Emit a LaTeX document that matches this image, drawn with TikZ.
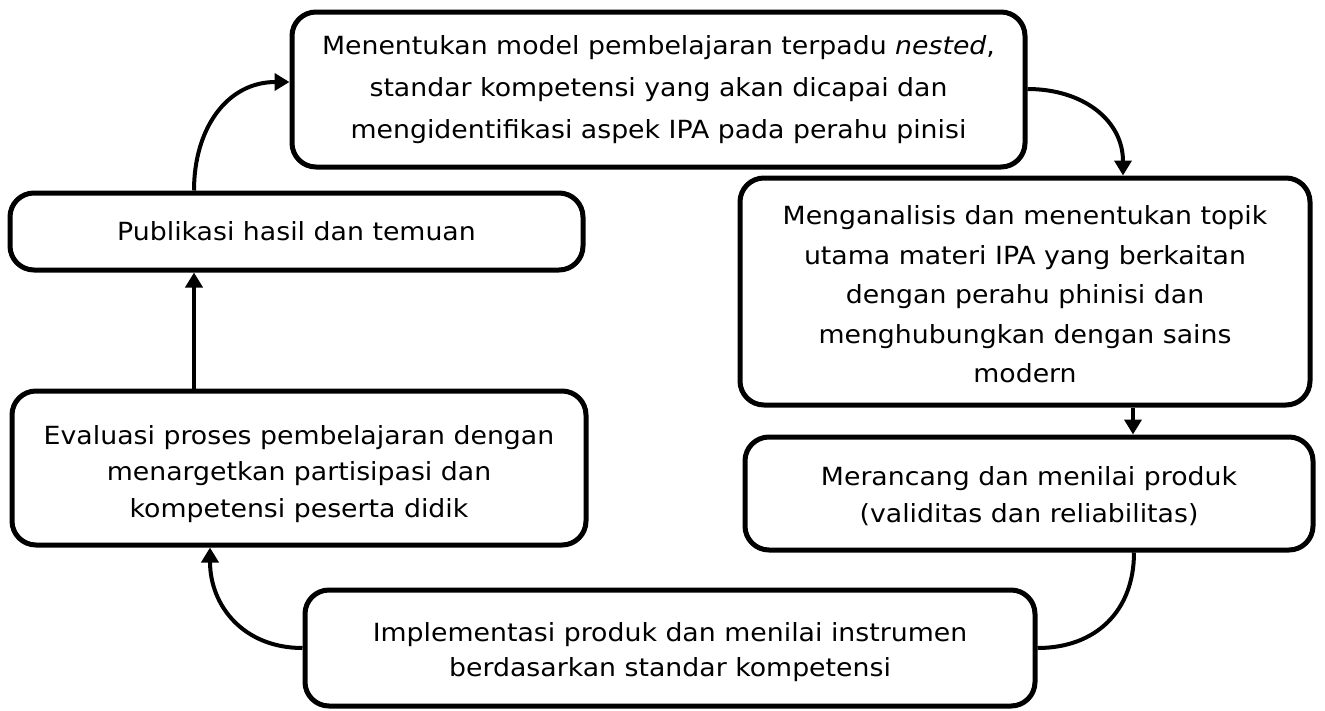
\documentclass[tikz,border=0pt]{standalone}
\usepackage{fontspec}
\setmainfont{DejaVu Sans}[FakeStretch=1.07]
\usetikzlibrary{arrows.meta}
\newcommand{\lowered}[3]{\raisebox{-#1}[\height][\depth]{\parbox{#2}{\centering #3}}}
\begin{document}
\begin{tikzpicture}[x=1pt,y=-1pt,
  box/.style={draw, line width=5pt, rounded corners=24pt, align=center, inner sep=0pt},
  arr/.style={line width=4pt, -{Triangle[length=15pt,width=17pt]}},
  link/.style={line width=4pt}]
\useasboundingbox (0,0) rectangle (1325,710);
\node[box, minimum width=733pt, minimum height=155pt, font=\fontsize{25pt}{42pt}\selectfont] (b1) at (658.5,89.5)
  {Menentukan model pembelajaran terpadu \textit{nested},\\standar kompetensi yang akan dicapai dan\\mengidentifikasi aspek IPA pada perahu pinisi};
\node[box, minimum width=573pt, minimum height=77pt, font=\fontsize{25pt}{40pt}\selectfont] (b2) at (296.5,231.5)
  {Publikasi hasil dan temuan};
\node[box, minimum width=570pt, minimum height=227pt, font=\fontsize{25pt}{39.5pt}\selectfont] (b3) at (1025,291.5)
  {\lowered{3pt}{560pt}{Menganalisis dan menentukan topik\\utama materi IPA yang berkaitan\\dengan perahu phinisi dan\\menghubungkan dengan sains\\modern}};
\node[box, minimum width=568pt, minimum height=113pt, font=\fontsize{25pt}{37pt}\selectfont] (b4) at (1029,493.5)
  {\lowered{3pt}{560pt}{Merancang dan menilai produk\\(validitas dan reliabilitas)}};
\node[box, minimum width=574pt, minimum height=154pt, font=\fontsize{25pt}{36.5pt}\selectfont] (b5) at (299,468)
  {\lowered{6pt}{566pt}{Evaluasi proses pembelajaran dengan\\menargetkan partisipasi dan\\kompetensi peserta didik}};
\node[box, minimum width=730pt, minimum height=116pt, font=\fontsize{25pt}{35.5pt}\selectfont] (b6) at (670,648)
  {\lowered{4pt}{720pt}{Implementasi produk dan menilai instrumen\\berdasarkan standar kompetensi}};
\draw[arr] ([xshift=-102.5pt]b2.north) to[out=90,in=180,looseness=1.1] ([yshift=7.5pt]b1.west);
\draw[arr] ([yshift=0.5pt]b1.east) to[out=0,in=90,looseness=1.1] ([xshift=98pt]b3.north);
\draw[arr] ([xshift=108pt]b3.south) -- ([xshift=104pt]b4.north);
\draw[link] ([xshift=105pt]b4.south) to[out=-90,in=0,looseness=1.1] (b6.east);
\draw[arr] (b6.west) to[out=180,in=-90,looseness=1.1] ([xshift=-89pt]b5.south);
\draw[arr] ([xshift=-105pt]b5.north) -- ([xshift=-102.5pt]b2.south);
\end{tikzpicture}
\end{document}
